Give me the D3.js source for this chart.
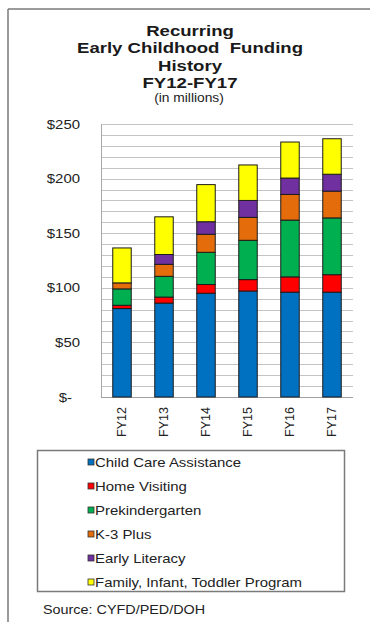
<!DOCTYPE html>
<html>
<head>
<meta charset="utf-8">
<script src="https://cdn.jsdelivr.net/npm/d3@7/dist/d3.min.js"></script>
<style>
  html, body { margin: 0; padding: 0; background: #fff; }
  svg { display: block; font-family: "Liberation Sans", Arial, sans-serif; }
</style>
</head>
<body>
<svg id="chart" width="370" height="622"></svg>
<script>
// ---- data ----
const years = ["FY12", "FY13", "FY14", "FY15", "FY16", "FY17"];
const seriesNames = ["Child Care Assistance", "Home Visiting", "Prekindergarten", "K-3 Plus", "Early Literacy", "Family, Infant, Toddler Program"];
const childCare    = [81, 86, 95, 97, 96, 96];
const homeVisiting = [3, 5.5, 8, 10.5, 14, 16];
const prek         = [15, 19, 29.5, 36, 52, 52];
const k3Plus       = [5.5, 11, 16.5, 21, 23.5, 24.5];
const earlyLit     = [0, 9, 11.5, 15.5, 15, 15.5];
const fitProgram   = [32, 34.5, 34, 32.5, 33, 32.5];
const yTickValues  = [0, 50, 100, 150, 200, 250];
const yTickLabels  = ["$-", "$50", "$100", "$150", "$200", "$250"];
const titleLines   = ["Recurring", "Early Childhood  Funding", "History", "FY12-FY17"];
const subtitle     = "(in millions)";
const sourceText   = "Source: CYFD/PED/DOH";
const colors = ["#0070c0", "#ff0000", "#00b050", "#e46c0a", "#7030a0", "#ffff00"];

const seriesValues = [childCare, homeVisiting, prek, k3Plus, earlyLit, fitProgram];
const table = years.map((y, i) => {
  const row = { year: y };
  seriesNames.forEach((s, j) => row[s] = seriesValues[j][i]);
  return row;
});

// ---- layout ----
const SX = 1.15; // horizontal text stretch seen in reference
const svg = d3.select("#chart");
const plot = { left: 101, right: 353, top: 124, bottom: 397 };

// frame
svg.append("line").attr("x1", 8).attr("x2", 8).attr("y1", 9).attr("y2", 622)
  .attr("stroke", "#7a7a7a").attr("stroke-width", 1.5);
svg.append("line").attr("x1", 8).attr("x2", 370).attr("y1", 9).attr("y2", 9)
  .attr("stroke", "#7a7a7a").attr("stroke-width", 1.5);

function stretchedText(x, y, txt, sx) {
  return svg.append("text")
    .attr("transform", `translate(${x},${y}) scale(${sx || SX},1)`)
    .text(txt);
}

// title
const titleBase = [35.5, 53, 70.5, 88];
titleLines.forEach((t, i) => {
  stretchedText(190, titleBase[i], t, 1.24)
    .attr("text-anchor", "middle")
    .attr("font-size", 15).attr("font-weight", "bold")
    .attr("fill", "#1a1a1a")
    .style("white-space", "pre");
});
stretchedText(189, 102, subtitle)
  .attr("text-anchor", "middle").attr("font-size", 12).attr("fill", "#222");

// scales
const x = d3.scaleBand().domain(years).range([plot.left, plot.right])
  .paddingInner(0.56).paddingOuter(0.28);
const y = d3.scaleLinear().domain([0, 250]).range([plot.bottom, plot.top]);

// gridlines every $10
svg.append("g").selectAll("line").data(y.ticks(25)).join("line")
  .attr("x1", plot.left).attr("x2", plot.right)
  .attr("y1", d => Math.round(y(d)) + 0.5).attr("y2", d => Math.round(y(d)) + 0.5)
  .attr("stroke", "#c4c4c4").attr("stroke-width", 1);

// plot left border + baseline
svg.append("line").attr("x1", plot.left + 0.5).attr("x2", plot.left + 0.5)
  .attr("y1", plot.top).attr("y2", plot.bottom)
  .attr("stroke", "#a8a8a8");
svg.append("line").attr("x1", plot.left).attr("x2", plot.right)
  .attr("y1", plot.bottom + 0.5).attr("y2", plot.bottom + 0.5)
  .attr("stroke", "#a0a0a0");

// y axis
const yAxis = svg.append("g").attr("transform", `translate(${plot.left},0)`)
  .call(d3.axisLeft(y).tickValues(yTickValues).tickSize(0)
    .tickFormat((d, i) => yTickLabels[i]));
yAxis.select(".domain").remove();
yAxis.selectAll("text")
  .attr("x", (d) => d === 0 ? -29 / SX : -21 / SX)
  .attr("transform", `scale(${SX},1)`)
  .attr("font-size", 13).attr("fill", "#222")
  .attr("font-family", "Liberation Sans, Arial, sans-serif");

// x axis
const xAxis = svg.append("g").attr("transform", `translate(0,${plot.bottom})`)
  .call(d3.axisBottom(x).tickSize(0));
xAxis.select(".domain").remove();
xAxis.selectAll("text")
  .attr("x", 0).attr("y", 0).attr("dy", "0.35em")
  .attr("transform", "translate(0,10) rotate(-90)")
  .attr("text-anchor", "end")
  .attr("font-size", 12.5).attr("fill", "#222")
  .attr("font-family", "Liberation Sans, Arial, sans-serif");

// stacked bars
const stacked = d3.stack().keys(seriesNames)(table);
svg.append("g").selectAll("g").data(stacked).join("g")
  .attr("fill", (d, i) => colors[i])
  .selectAll("rect").data(d => d).join("rect")
  .attr("x", d => x(d.data.year))
  .attr("width", x.bandwidth())
  .attr("y", d => y(d[1]))
  .attr("height", d => Math.max(0, y(d[0]) - y(d[1])))
  .attr("stroke", "#1c1c1c").attr("stroke-width", 1);

// legend
svg.append("rect").attr("x", 37.5).attr("y", 450.5).attr("width", 307).attr("height", 141)
  .attr("fill", "none").attr("stroke", "#7a7a7a").attr("stroke-width", 1.5);
const legY = d3.scalePoint().domain(seriesNames).range([462, 582]);
seriesNames.forEach((s, i) => {
  svg.append("rect").attr("x", 88).attr("y", legY(s) - 3).attr("width", 6).attr("height", 6)
    .attr("fill", colors[i]).attr("stroke", "#333").attr("stroke-width", 0.8);
  stretchedText(95, legY(s) + 4.5, s).attr("font-size", 13).attr("fill", "#222");
});

// source
stretchedText(43, 614, sourceText).attr("font-size", 12.5).attr("fill", "#222");
</script>
</body>
</html>
